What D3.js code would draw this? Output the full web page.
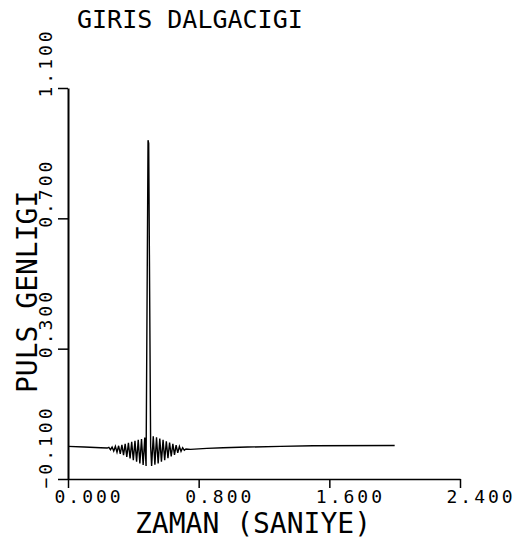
<!DOCTYPE html>
<html>
<head>
<meta charset="utf-8">
<script src="https://cdn.jsdelivr.net/npm/d3@7"></script>
<style>
	body { margin: 0; background: #fff; }
	text { font-family: "DejaVu Sans Mono", monospace; fill: #000; }
</style>
</head>
<body>
<div id="chart"></div>
<script>

		var width = 517;
		var height = 541;

		// tick values
		var xTicks = [0, 0.8, 1.6, 2.4];
		var yTicks = [-0.1, 0.3, 0.7, 1.1];

		// wavelet samples (time in s, amplitude)
		var time = [0.00, 0.10, 0.20, 0.24, 0.25, 0.26, 0.27, 0.28, 0.29, 0.30,
			0.31, 0.32, 0.33, 0.34, 0.35, 0.36, 0.37, 0.38, 0.39, 0.40,
			0.41, 0.42, 0.43, 0.44, 0.45, 0.46, 0.47, 0.478, 0.490, 0.494, 0.506,
			0.512, 0.522, 0.532, 0.542, 0.552, 0.562, 0.572, 0.582, 0.592, 0.602,
			0.612, 0.622, 0.632, 0.642, 0.652, 0.662, 0.672, 0.682, 0.692, 0.702,
			0.712, 0.722, 0.75, 0.85, 0.95, 1.10, 1.30, 1.50, 2.00];
		var amplitude = [0.000, -0.002, -0.004, -0.005, -0.003, -0.010, -0.002, -0.014, 0.000, -0.018,
			0.002, -0.023, 0.005, -0.027, 0.008, -0.032, 0.011, -0.037, 0.014, -0.042,
			0.017, -0.047, 0.020, -0.052, 0.023, -0.057, 0.027, -0.060, 0.940, 0.930, 0.000,
			-0.060, 0.031, -0.056, 0.028, -0.052, 0.024, -0.047, 0.020, -0.042, 0.016,
			-0.036, 0.012, -0.031, 0.008, -0.026, 0.004, -0.020, 0.000, -0.015, -0.004,
			-0.012, -0.008, -0.009, -0.006, -0.004, -0.002, 0.000, 0.002, 0.003];

		var svg = d3.select("#chart")
					.append("svg")
					.attr("width", width)
					.attr("height", height);

		var x = d3.scaleLinear().domain([0, 2.4]).range([68, 460]);
		var y = d3.scaleLinear().domain([-0.1, 1.1]).range([479, 88]);

		var fmt = d3.format(".3f");

		// x axis
		var xAxis = d3.axisBottom(x)
			.tickValues(xTicks)
			.tickSize(9)
			.tickSizeOuter(0)
			.tickFormat(fmt);

		var gx = svg.append("g")
			.attr("transform", "translate(0," + y(-0.1) + ")")
			.call(xAxis);

		gx.select(".domain").attr("stroke-width", 1.5);
		gx.selectAll(".tick line").attr("stroke-width", 1.5);
		gx.selectAll(".tick text")
			.attr("x", -14)
			.attr("y", 24)
			.attr("dy", null)
			.attr("text-anchor", "start")
			.style("font-size", "18px")
			.style("letter-spacing", "3px")
			.style("font-family", "DejaVu Sans Mono");

		// y axis
		var yAxis = d3.axisLeft(y)
			.tickValues(yTicks)
			.tickSize(10)
			.tickSizeOuter(0)
			.tickFormat(fmt);

		var gy = svg.append("g")
			.attr("transform", "translate(" + x(0) + ",0)")
			.call(yAxis);

		gy.select(".domain").attr("stroke-width", 2);
		gy.selectAll(".tick line").attr("stroke-width", 1.5);
		gy.selectAll(".tick text")
			.attr("x", null)
			.attr("dy", null)
			.attr("text-anchor", "start")
			.attr("transform", "translate(-16,9) rotate(-90)")
			.style("font-size", "18px")
			.style("letter-spacing", "3px")
			.style("font-family", "DejaVu Sans Mono");

		// the wavelet
		var line = d3.line()
			.x(function(d, i){ return x(time[i]); })
			.y(function(d){ return y(d); });

		svg.append("path")
			.datum(amplitude)
			.attr("d", line)
			.attr("fill", "none")
			.attr("stroke", "#000")
			.attr("stroke-width", 1.4);

		// titles
		svg.append("text")
			.attr("x", 77)
			.attr("y", 28)
			.style("font-size", "25px")
			.text("GIRIS DALGACIGI");

		svg.append("text")
			.attr("x", 135)
			.attr("y", 533)
			.style("font-size", "28px")
			.text("ZAMAN (SANIYE)");

		svg.append("text")
			.attr("transform", "translate(37,393) rotate(-90)")
			.style("font-size", "28px")
			.text("PULS GENLIGI");

</script>
</body>
</html>
